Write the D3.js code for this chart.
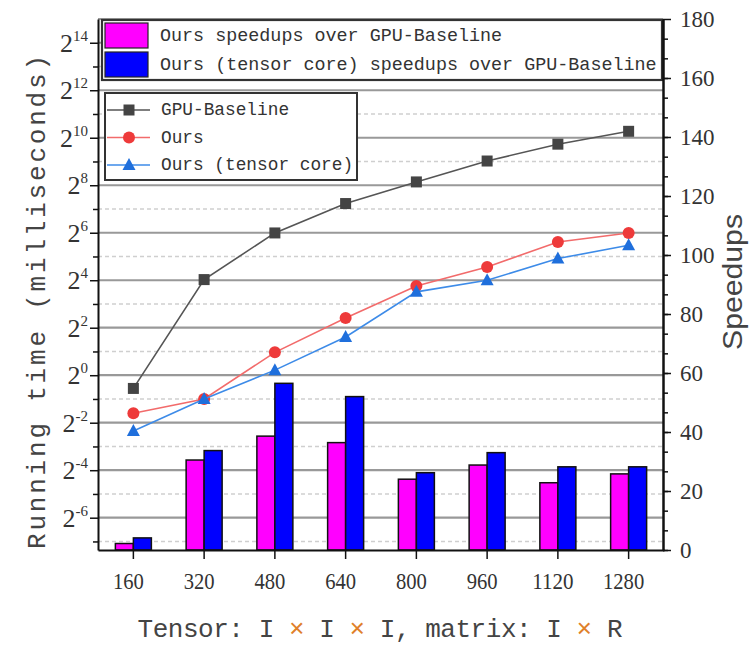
<!DOCTYPE html>
<html>
<head>
<meta charset="utf-8">
<script src="https://cdn.jsdelivr.net/npm/d3@7"></script>
<style>
  body { margin: 0; background: #fff; }
  svg { display: block; }
</style>
</head>
<body>
<div id="chart"></div>
<script type="text/javascript">
// categories (tensor size I)
var sizes = ["160", "320", "480", "640", "800", "960", "1120", "1280"];

// running time in milliseconds (left, log2 axis)
var gpuBaseline = [0.68, 16.3, 63.6, 150, 282, 519, 849, 1235];
var ours = [0.33, 0.5, 1.95, 5.3, 13.5, 23.6, 48.8, 63.6];
var oursTC = [0.196, 0.5, 1.16, 3.05, 11.4, 16, 30.1, 44.3];

// speedups (right axis, bars)
var speedupOurs = [2.2, 30.5, 38.6, 36.4, 24.0, 28.8, 22.8, 25.8];
var speedupTC = [4.1, 33.7, 56.5, 52.0, 26.2, 33.0, 28.2, 28.2];

// tick values
var leftExps = [-6, -4, -2, 0, 2, 4, 6, 8, 10, 12, 14];
var rightTicks = [0, 20, 40, 60, 80, 100, 120, 140, 160, 180];

var W = 753, H = 645;
var pLeft = 98, pRight = 663, pTop = 19, pBottom = 550;

var svg = d3.select("#chart").append("svg")
    .attr("width", W)
    .attr("height", H);

var x = d3.scaleBand().domain(sizes).range([pLeft, pRight + 1]);
var yL = d3.scaleLog().base(2).domain([Math.pow(2, -7.36), Math.pow(2, 15)]).range([pBottom, pTop]);
var yR = d3.scaleLinear().domain([0, 180]).range([pBottom, pTop]);

// grid lines
var grid = svg.append("g");
d3.range(-7, 15).forEach(function(e) {
  var even = (e % 2 === 0);
  grid.append("line")
      .attr("x1", pLeft).attr("x2", pRight)
      .attr("y1", yL(Math.pow(2, e))).attr("y2", yL(Math.pow(2, e)))
      .attr("stroke", even ? "#999999" : "#cfcfcf")
      .attr("stroke-width", even ? 2.2 : 1.5)
      .attr("stroke-dasharray", even ? null : "4,3");
});
grid.append("line").attr("x1", pLeft).attr("x2", pRight).attr("y1", pTop).attr("y2", pTop)
    .attr("stroke", "#777").attr("stroke-width", 1.5);

// bars
var bw = 18;
var bars = svg.append("g");
bars.selectAll(".b1").data(speedupOurs).enter().append("rect")
    .attr("x", function(d, i) { return x(sizes[i]) + x.bandwidth() / 2 - bw; })
    .attr("y", function(d) { return yR(d); })
    .attr("width", bw)
    .attr("height", function(d) { return pBottom - yR(d); })
    .attr("fill", "#ff00ff")
    .attr("stroke", "#111").attr("stroke-width", 1.5);
bars.selectAll(".b2").data(speedupTC).enter().append("rect")
    .attr("x", function(d, i) { return x(sizes[i]) + x.bandwidth() / 2; })
    .attr("y", function(d) { return yR(d); })
    .attr("width", bw)
    .attr("height", function(d) { return pBottom - yR(d); })
    .attr("fill", "#0000ff")
    .attr("stroke", "#111").attr("stroke-width", 1.5);

// lines
var cx = function(i) { return x(sizes[i]) + x.bandwidth() / 2; };
var line = d3.line()
    .x(function(d, i) { return cx(i); })
    .y(function(d) { return yL(d); });

var series = [
  {name: "GPU-Baseline", data: gpuBaseline, line: "#555555", mark: "#444444", shape: "square"},
  {name: "Ours", data: ours, line: "#f26b6b", mark: "#ee3a3a", shape: "circle"},
  {name: "Ours (tensor core)", data: oursTC, line: "#3d8be8", mark: "#1f6fdc", shape: "triangle"}
];

function drawMarker(g, shape, color, px, py) {
  if (shape === "square") {
    g.append("rect").attr("x", px - 5.5).attr("y", py - 5.5)
      .attr("width", 11).attr("height", 11).attr("fill", color);
  } else if (shape === "circle") {
    g.append("circle").attr("cx", px).attr("cy", py).attr("r", 6).attr("fill", color);
  } else {
    g.append("path")
      .attr("d", "M" + px + "," + (py - 7) + "L" + (px + 6.5) + "," + (py + 5) + "L" + (px - 6.5) + "," + (py + 5) + "Z")
      .attr("fill", color);
  }
}

series.forEach(function(s) {
  var g = svg.append("g");
  g.append("path").datum(s.data)
      .attr("d", line)
      .attr("fill", "none")
      .attr("stroke", s.line)
      .attr("stroke-width", 1.6);
  s.data.forEach(function(d, i) { drawMarker(g, s.shape, s.mark, cx(i), yL(d)); });
});

// legend 1 (bars)
var lg1 = svg.append("g");
lg1.append("rect").attr("x", 102).attr("y", 20).attr("width", 560).attr("height", 60)
    .attr("fill", "#fff").attr("stroke", "#333").attr("stroke-width", 2.2);
var leg1 = [["Ours speedups over GPU-Baseline", "#ff00ff", 23],
            ["Ours (tensor core) speedups over GPU-Baseline", "#0000ff", 52]];
leg1.forEach(function(l) {
  lg1.append("rect").attr("x", 105).attr("y", l[2]).attr("width", 43).attr("height", 25)
      .attr("fill", l[1]).attr("stroke", "#222").attr("stroke-width", 1.2);
  lg1.append("text").attr("x", 160).attr("y", l[2] + 13)
      .attr("dominant-baseline", "central")
      .style("font-family", "Liberation Mono").style("font-size", "18.4px").style("fill", "#333")
      .text(l[0]);
});

// legend 2 (lines)
var lg2 = svg.append("g");
lg2.append("rect").attr("x", 105).attr("y", 93).attr("width", 252).attr("height", 87)
    .attr("fill", "#fff").attr("stroke", "#333").attr("stroke-width", 2);
series.forEach(function(s, i) {
  var ly = 110 + i * 27.5;
  lg2.append("line").attr("x1", 107).attr("x2", 150).attr("y1", ly).attr("y2", ly)
      .attr("stroke", s.line).attr("stroke-width", 1.6);
  drawMarker(lg2, s.shape, s.mark, 129, ly);
  lg2.append("text").attr("x", 161).attr("y", ly)
      .attr("dominant-baseline", "central")
      .style("font-family", "Liberation Mono").style("font-size", "17.8px").style("fill", "#333")
      .text(s.name);
});

// left axis
var axL = svg.append("g").attr("transform", "translate(" + pLeft + ",0)")
    .call(d3.axisLeft(yL).tickValues(leftExps.map(function(e) { return Math.pow(2, e); }))
      .tickFormat("").tickSize(8).tickSizeOuter(0));
axL.select(".domain").attr("stroke", "#111").attr("stroke-width", 2);
axL.selectAll(".tick line").attr("stroke", "#111").attr("stroke-width", 1.5);
var axLm = svg.append("g").attr("transform", "translate(" + pLeft + ",0)")
    .call(d3.axisLeft(yL).tickValues(d3.range(-7, 15, 2).map(function(e) { return Math.pow(2, e); }))
      .tickFormat("").tickSize(5).tickSizeOuter(0));
axLm.select(".domain").remove();
axLm.selectAll(".tick line").attr("stroke", "#111").attr("stroke-width", 1.5);

leftExps.forEach(function(e) {
  var t = svg.append("text")
      .attr("x", 88).attr("y", yL(Math.pow(2, e)) + 9)
      .attr("text-anchor", "end")
      .style("font-family", "Liberation Serif").style("fill", "#333");
  t.append("tspan").style("font-size", "26px").text("2");
  t.append("tspan").attr("dy", -11).style("font-size", "15px").text(e < 0 ? "-" + (-e) : e);
});

// right axis
var axR = svg.append("g").attr("transform", "translate(" + pRight + ",0)")
    .call(d3.axisRight(yR).tickValues(rightTicks).tickFormat("").tickSize(8).tickSizeOuter(0));
axR.select(".domain").attr("stroke", "#111").attr("stroke-width", 2.5);
axR.selectAll(".tick line").attr("stroke", "#111").attr("stroke-width", 1.5);
var axRm = svg.append("g").attr("transform", "translate(" + pRight + ",0)")
    .call(d3.axisRight(yR).tickValues(d3.range(0, 27).map(function(i) { return i * 20 / 3; }))
      .tickFormat("").tickSize(5).tickSizeOuter(0));
axRm.select(".domain").remove();
axRm.selectAll(".tick line").attr("stroke", "#111").attr("stroke-width", 1.5);
rightTicks.forEach(function(v) {
  svg.append("text").attr("x", 680).attr("y", yR(v))
      .attr("dominant-baseline", "central")
      .style("font-family", "Liberation Serif").style("font-size", "23px").style("fill", "#333")
      .text(v);
});

// bottom axis
var axB = svg.append("g").attr("transform", "translate(0," + pBottom + ")")
    .call(d3.axisBottom(x).tickFormat("").tickSize(9).tickSizeOuter(0));
axB.select(".domain").attr("stroke", "#111").attr("stroke-width", 2);
axB.selectAll(".tick line").attr("stroke", "#111").attr("stroke-width", 1.5);
sizes.forEach(function(s) {
  svg.append("text").attr("x", x(s) + x.bandwidth() / 2 - 5).attr("y", 581)
      .attr("text-anchor", "middle").attr("dominant-baseline", "central")
      .attr("textLength", s.length * 10.3).attr("lengthAdjust", "spacingAndGlyphs")
      .style("font-family", "Liberation Serif").style("font-size", "24px").style("fill", "#333")
      .text(s);
});

// axis titles
svg.append("text")
    .attr("transform", "translate(38,302) rotate(-90)")
    .attr("text-anchor", "middle").attr("dominant-baseline", "central")
    .attr("textLength", 494).attr("lengthAdjust", "spacing")
    .style("font-family", "Liberation Mono").style("font-size", "26px").style("fill", "#444")
    .text("Running time (milliseconds)");

svg.append("text")
    .attr("transform", "translate(733,282) rotate(-90)")
    .attr("text-anchor", "middle").attr("dominant-baseline", "central")
    .attr("textLength", 136).attr("lengthAdjust", "spacingAndGlyphs")
    .style("font-family", "Liberation Sans").style("font-size", "27px").style("fill", "#444")
    .text("Speedups");

var xt = svg.append("text")
    .attr("x", 380).attr("y", 630)
    .attr("text-anchor", "middle").attr("dominant-baseline", "central")
    .attr("textLength", 485).attr("lengthAdjust", "spacing")
    .style("font-family", "Liberation Mono").style("font-size", "26px").style("fill", "#444");
var parts = ["Tensor: I ", "\u00d7", " I ", "\u00d7", " I, matrix: I ", "\u00d7", " R"];
parts.forEach(function(p) {
  xt.append("tspan").style("fill", p === "\u00d7" ? "#e0802a" : "#444").text(p);
});
</script>
</body>
</html>
